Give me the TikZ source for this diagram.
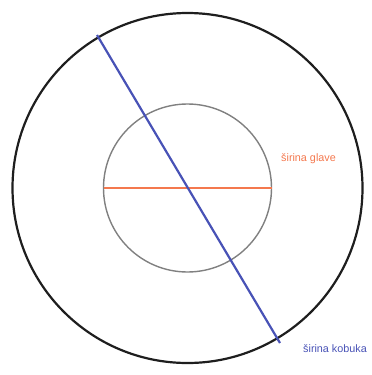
\documentclass[tikz,border=0pt]{standalone}
\usepackage{fontspec}
\setmainfont{Liberation Sans}
\definecolor{orangeline}{RGB}{244,120,78}
\definecolor{blueline}{RGB}{72,82,182}
\definecolor{innergray}{RGB}{128,128,128}
\definecolor{outerline}{RGB}{30,30,30}
\begin{document}
\begin{tikzpicture}[x=1pt,y=-1pt,
  lbl/.style={font=\fontsize{10.8}{12}\selectfont, inner sep=0pt, anchor=west}]
\useasboundingbox (0,0) rectangle (372,375);
\coordinate (c) at (187.5,188);
\draw[outerline, line width=2.2pt] (c) circle[radius=175];
\draw[innergray, line width=1.4pt] (c) circle[radius=84];
\coordinate (gl) at (103.5,188);
\coordinate (gr) at (271.5,188);
\draw[orangeline, line width=1.3pt] (gl) -- (gr);
\coordinate (kt) at (97,35);
\coordinate (kb) at (280,343);
\draw[blueline, line width=2.2pt] (kt) -- (kb);
\node[lbl, text=orangeline] (glave) at (281,159) {širina glave};
\node[lbl, text=blueline] (kobuka) at (303,349) {širina kobuka};
\end{tikzpicture}
\end{document}
